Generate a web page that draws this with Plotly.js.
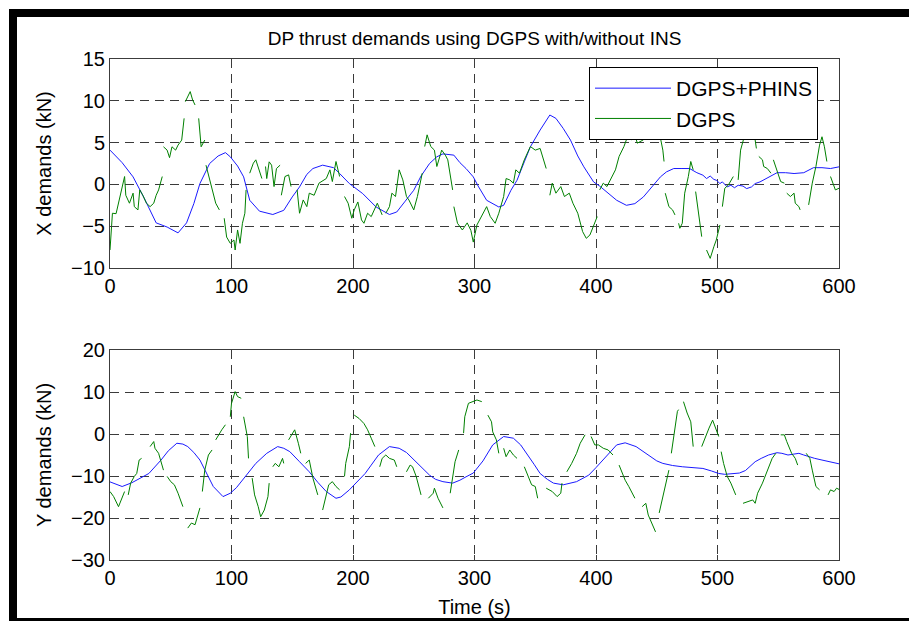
<!DOCTYPE html>
<html>
<head>
<meta charset="utf-8">
<script src="https://cdn.plot.ly/plotly-3.0.1.min.js"></script>
<style>html,body{margin:0;padding:0;background:#fff;}#chart{width:909px;height:621px;}</style>
</head>
<body>
<div id="chart"></div>
<script>
// ---------- data ----------
var titleText = "DP thrust demands using DGPS with/without INS";
var seriesNames = ["DGPS+PHINS", "DGPS"];
var xTicks = [0, 100, 200, 300, 400, 500, 600];
var yTicksX = [-10, -5, 0, 5, 10, 15];
var yTicksY = [-30, -20, -10, 0, 10, 20];

// X demands, DGPS+PHINS (blue)
var tPhinsX = [0,10,19,28,38,47,56,63,69,74,82,89,95,99,105,110,115,123,134,143,150,156,162,167,175,184,189,197,208,219,230,236,243,250,256,263,269,274,283,288,293,299,303,310,320,324,330,335,341,346,354,362,367,373,379,385,390,398,403,409,417,425,432,439,446,453,458,464,470,477,483,488,491,494,497,499,502,504,508,511,514,517,521,524,528,531,535,542,549,556,563,571,579,586,593,600];
var phinsX = [4.1,2.6,0.9,-1.6,-4.6,-5.1,-5.8,-4.6,-2.3,0.1,2.5,3.4,3.8,3.3,2.2,0.9,-1.9,-3.2,-3.6,-3.1,-1.5,-0.3,1.2,1.9,2.3,2.0,1.3,0.1,-1.1,-2.7,-3.6,-3.3,-2.0,-0.7,1.0,2.5,3.3,3.65,3.5,2.6,1.9,0.9,-0.2,-1.9,-2.7,-2.5,-0.7,0.5,2.7,4.5,6.5,8.3,7.9,6.7,5.3,3.4,2.1,0.3,-0.2,-0.9,-1.9,-2.5,-2.3,-1.5,-0.3,0.9,1.5,1.9,1.9,1.9,1.4,1.1,0.7,1.0,0.6,0.5,0.1,0.3,-0.3,-0.1,-0.4,-0.1,-0.2,-0.5,-0.3,0.1,0.3,0.9,1.4,1.4,1.3,1.4,2.0,2.0,1.9,2.1];

// X demands, DGPS (green); null = break in the line
var tDgpsX = [0,2,5,9,12,13,16,19,20,23,24.5,27,30,33,36,38,40,43,43.5,44,47,49,51,54,56,59,61,61.5,62,64,66,68,70,71,73,75,78,78.5,79,82,85,87,90,92,94,96,99,102,103,105,107,109,111,112,113,115,118,120,123,125,126,128,129,131,133,135,137,140,140.5,141,144,147,149,150,154,156,159,162,164,168,172,178,181,183,186,189,191,193,196,199,201,204,207,209,212,215,217,220,224,225,227,230,232,235,238,241,244,246,250,253,257,258,259,261,264,267,269,273,276,278,282,282.5,283,286,290,294,297,299,302,307,310,313,317,320,324,326,329,332,334,337,341,346,350,354,359,360,362,364,367,371,374,378,381,385,389,392,395,398,401,402,403,406,409,412,416,419,423,426,429,432,434,439,441,444,448,452,455,456,456.5,457,460,463,465,466,468,469,471,473,476,478,480,481,482,484,487,489,491,494,497,499,502,503,504,506,509,513,515,517,519,522,526,530,532,533,534,537,538,541,544,545,546,549,552,555,556,557,560,563,564,567,568,570,575,578,581,584,586,588,590,591,593,597,600];
var dgpsX = [-7.85,-3.45,-3.5,-1.05,0.94,-1.3,-2.25,-1.05,-2.66,-3.05,-0.66,-1.3,-2.25,-2.66,-2.25,-1.3,-0.66,0.94,null,4.5,4.1,3.2,4.5,4.1,4.7,5.3,7.9,null,9.9,10.5,11.1,10.1,9.5,null,7.9,4.5,5.3,null,2.3,0.5,-1.05,-2.25,-3.05,null,-4.05,-6.3,-7.05,-6.65,-7.85,-5.45,-7.05,-4.65,-3.45,-0.66,null,1.34,2.54,2.94,1.7,0.7,null,2.14,0.7,2.7,2.3,-0.26,1.9,2.3,null,-1.3,0.94,1.14,-0.26,null,-0.66,-3.45,-1.86,-2.66,-1.05,-1.3,0.15,0.7,1.74,0.34,2.74,0.94,null,-1.45,-2.25,-4.05,-3.05,-2.1,-4.25,-4.65,-3.45,-3.85,-3.25,-2.25,-3.65,null,-3.45,-2.66,-1.05,-1.45,1.74,0.54,-1.45,-1.86,-3.05,-1.45,1.34,null,4.53,5.93,4.53,4.1,2.14,4.1,3.5,2.94,-0.66,null,-2.66,-4.65,-5.45,-4.6,-5.5,-6.9,-4.85,-3.45,-2.66,-3.85,-4.65,-3.45,-1.45,0.7,0.54,0.15,1.74,1.34,2.94,4.53,4.1,4.3,1.9,null,-1.3,0.15,-1.05,-0.26,-1.45,-1.05,-2.25,-3.45,-5.65,-6.45,-6.05,-4.85,-3.85,null,-0.66,0.15,-0.26,0.54,1.74,3.34,4.53,5.73,5.33,5.93,4.93,5.33,5.9,5.9,7.5,6.3,4.1,2.74,null,-1.05,-2.66,-3.05,-3.65,null,-4.65,-5.25,-4.65,-1.05,0.94,2.74,1.74,null,-0.86,-3.05,-6.25,null,-7.85,-8.85,-7.45,-6.65,-4.85,null,-2.66,-0.46,-0.06,0.94,null,0.54,4.1,5.7,7.5,6.3,4.3,null,3.34,2.94,2.14,1.9,1.34,null,2.94,1.74,0.34,0.15,null,-1.05,-1.45,-1.05,-2.25,-2.66,-3.05,null,-2.45,0.15,2.14,4.7,5.7,4.5,2.74,null,0.94,-0.66,-0.46];

// Y demands, DGPS+PHINS (blue)
var tPhinsY = [0,10,18,25,32,42,48,55,60,64,69,74,80,85,93,99,104,109,115,120,129,138,143,148,156,164,171,178,186,190,197,204,210,215,221,230,238,244,249,256,263,268,274,282,288,293,299,307,315,324,332,338,343,349,354,360,365,373,384,394,400,406,412,417,424,433,440,444,450,455,463,471,480,488,495,501,506,512,518,523,527,531,536,542,549,553,558,563,567,571,575,580,586,594,600];
var phinsY = [-11.4,-12.5,-11.6,-10.4,-9.4,-6.2,-4.0,-2.2,-2.4,-3.0,-4.4,-6.2,-9.5,-12.5,-14.9,-14.1,-12.8,-11.0,-9.0,-7.0,-4.6,-3.0,-3.4,-4.2,-6.6,-9.0,-11.5,-13.7,-15.3,-15.0,-13.3,-11.3,-9.4,-7.4,-5.0,-3.0,-3.4,-4.4,-5.8,-7.9,-9.8,-10.8,-11.35,-11.7,-11.0,-10.2,-9.3,-6.4,-2.6,-0.6,-1.0,-2.6,-4.6,-7.2,-9.4,-10.8,-11.7,-12.1,-11.35,-9.8,-8.0,-6.2,-4.2,-2.6,-2.1,-3.0,-4.4,-5.4,-6.4,-7.0,-7.5,-7.8,-8.0,-8.2,-8.8,-9.4,-9.6,-9.5,-9.3,-8.7,-7.6,-6.6,-5.8,-5.0,-4.45,-4.6,-5.0,-4.8,-4.6,-5.0,-5.4,-5.8,-6.2,-6.8,-7.1];

// Y demands, DGPS (green); null = break in the line
var tDgpsY = [0,3,7,9,12,13,15,17,20,22,24,26,30,33,36,37,40,44,45,47,50,53,56,60,62,64,67,70,73,74,75,76,78,81,84,85,87,90,92,95,97,99,100,103,105,108,109,110,113,114,115,117,119,122,124,127,130,131,132,134,136,139,142,143,145,147,150,152,155,157,159,161,164,167,171,173,175,178,180,183,186,189,191,193,194,197,198,199,201,205,209,212,215,218,220,222,224,227,230,234,236,240,244,247,249,252,256,259,262,266,267,270,274,277,280,282,284,287,289,291,292,295,299,302,306,308,311,314,315,318,320,322,324,326,329,332,335,338,341,344,347,350,352,355,359,361,364,368,371,372,374,376,380,384,387,391,393,396,399,402,406,410,414,416,419,422,424,427,430,432,435,438,441,443,446,449,450,452,455,457,460,461,462,464,467,468,470,472,475,478,480,483,487,490,493,496,498,501,502,503,505,508,511,515,518,521,525,529,531,533,537,541,545,548,550,552,555,557,561,564,566,570,573,576,578,581,584,587,591,593,596,598,600];
var dgpsY = [-13.7,-14.9,-17.3,-15.7,-13.7,null,-14.5,-11.7,-10.1,-9.4,-6.2,-5.8,null,-3.0,-1.8,-3.4,-4.6,-8.6,null,-10.1,-11.35,-12.1,-14.1,-17.3,null,-22.4,-21.2,-21.6,-18.8,-17.6,null,-13.7,-8.6,-5.0,-3.8,null,-1.4,0.2,1.0,2.2,null,4.1,7.3,10.1,8.9,8.5,null,4.1,-0.6,-5.8,null,-10.5,-14.5,-17.3,-19.7,-18.1,-14.9,-11.7,null,-7.8,-7.0,-7.8,-5.8,-7.0,null,-1.4,0.2,1.0,-2.2,-4.6,null,-7.0,-6.2,-10.5,-14.5,null,-18.1,-14.1,-12.1,-11.35,-12.5,-13.3,null,-10.1,-7.0,-3.0,0.2,null,4.5,3.7,2.5,1.0,-1.0,-3.0,null,-7.8,-5.8,-5.0,-5.8,-6.2,-7.8,null,-9.0,-7.4,-7.8,-10.1,-14.5,null,-15.3,-14.1,-12.9,-15.3,-17.6,null,-14.1,-10.1,-6.6,-3.8,null,0.2,4.1,7.3,7.7,8.1,7.7,null,4.5,2.9,0.5,-1.4,-4.6,null,-3.4,-5.4,-3.8,-5.0,-5.8,null,-7.8,-9.8,-12.1,-12.5,-15.3,null,-12.9,-13.3,-13.7,-14.9,-14.1,-11.7,null,-9.0,-7.0,-4.6,-2.2,-0.2,null,-0.6,-2.6,-2.6,-3.4,-3.8,-5.0,null,-7.4,-9.4,-11.0,-12.5,-14.1,-15.3,null,-17.3,-16.5,-19.3,-21.2,-23.3,null,-18.8,-14.9,-11.7,-8.6,null,-4.6,-0.2,5.4,5.8,null,7.7,5.0,2.9,-3.0,null,-3.0,-0.6,1.4,3.3,1.8,-0.6,null,-4.2,-7.0,-10.1,-11.7,-14.5,null,-16.5,-16.1,-15.7,-16.5,-14.1,-11.7,-8.6,-5.8,-4.6,null,-0.2,-0.2,-1.8,-4.6,-5.8,-7.4,null,-4.6,-5.8,-8.6,-12.5,-13.3,null,-14.5,-13.3,-13.7,-12.9,-13.2];

// ---------- styling ----------
var FONT = "Liberation Sans, Arial, Helvetica, sans-serif";
var BLUE = "#1a1aff", GREEN = "#008000";
var FRAME = "#3c3c3c", GRID = "#3a3a3a";

function axisCommon(extra) {
  var a = {
    showline: true, linecolor: FRAME, linewidth: 1, mirror: "ticks",
    ticks: "inside", ticklen: 5, tickcolor: FRAME, tickwidth: 1,
    showgrid: true, gridcolor: GRID, gridwidth: 1, griddash: "9px,6px",
    zeroline: false, tickfont: {family: FONT, size: 20, color: "#000"},
    fixedrange: true
  };
  for (var k in extra) a[k] = extra[k];
  return a;
}

var traces = [
  {x: tPhinsX, y: phinsX, type: "scatter", mode: "lines", name: seriesNames[0],
   line: {color: BLUE, width: 1}, xaxis: "x", yaxis: "y", legendgroup: "a"},
  {x: tDgpsX, y: dgpsX, type: "scatter", mode: "lines", name: seriesNames[1],
   line: {color: GREEN, width: 1}, connectgaps: false, xaxis: "x", yaxis: "y", legendgroup: "b"},
  {x: tPhinsY, y: phinsY, type: "scatter", mode: "lines", name: seriesNames[0],
   line: {color: BLUE, width: 1}, xaxis: "x2", yaxis: "y2", showlegend: false},
  {x: tDgpsY, y: dgpsY, type: "scatter", mode: "lines", name: seriesNames[1],
   line: {color: GREEN, width: 1}, connectgaps: false, xaxis: "x2", yaxis: "y2", showlegend: false}
];

// page-edge black frame (px -> paper coordinates)
var L = 110, R = 70, T = 59, B = 61, W = 909, H = 621;
function px(x) { return (x - L) / (W - L - R); }
function py(y) { return (H - B - y) / (H - T - B); }

var layout = {
  width: W, height: H,
  margin: {l: L, r: R, t: T, b: B, pad: 0},
  paper_bgcolor: "#fff", plot_bgcolor: "#fff",
  font: {family: FONT, color: "#000"},
  title: {text: titleText, font: {family: FONT, size: 19, color: "#000"},
          x: 0.5, xref: "paper", xanchor: "center", y: 1 - 38 / H, yanchor: "middle", yref: "container"},
  showlegend: true,
  legend: {x: px(589), y: py(67), xanchor: "left", yanchor: "top",
           bgcolor: "#fff", bordercolor: "#000", borderwidth: 1,
           font: {family: FONT, size: 21, color: "#000"}, itemwidth: 76,
           tracegroupgap: 0},
  xaxis: axisCommon({domain: [0, 1], anchor: "y", range: [0, 600], tickvals: xTicks}),
  yaxis: axisCommon({domain: [(H - B - 268) / (H - T - B), 1], anchor: "x", range: [-10, 15], tickvals: yTicksX,
                     title: {text: "X demands (kN)", font: {family: FONT, size: 20, color: "#000"}, standoff: 14}}),
  xaxis2: axisCommon({domain: [0, 1], anchor: "y2", range: [0, 600], tickvals: xTicks,
                      title: {text: "Time (s)", font: {family: FONT, size: 20, color: "#000"}, standoff: 11}}),
  yaxis2: axisCommon({domain: [0, (H - B - 350) / (H - T - B)], anchor: "x2", range: [-30, 20], tickvals: yTicksY,
                      title: {text: "Y demands (kN)", font: {family: FONT, size: 20, color: "#000"}, standoff: 14}}),
  shapes: [
    {type: "rect", xref: "paper", yref: "paper", x0: px(9), x1: px(909), y0: py(17), y1: py(9),
     fillcolor: "#000", line: {width: 0}},
    {type: "rect", xref: "paper", yref: "paper", x0: px(9), x1: px(17), y0: py(621), y1: py(9),
     fillcolor: "#000", line: {width: 0}},
    {type: "rect", xref: "paper", yref: "paper", x0: px(9), x1: px(909), y0: py(621), y1: py(618),
     fillcolor: "#000", line: {width: 0}}
  ]
};

Plotly.newPlot("chart", traces, layout, {displayModeBar: false, staticPlot: true});
</script>
</body>
</html>
